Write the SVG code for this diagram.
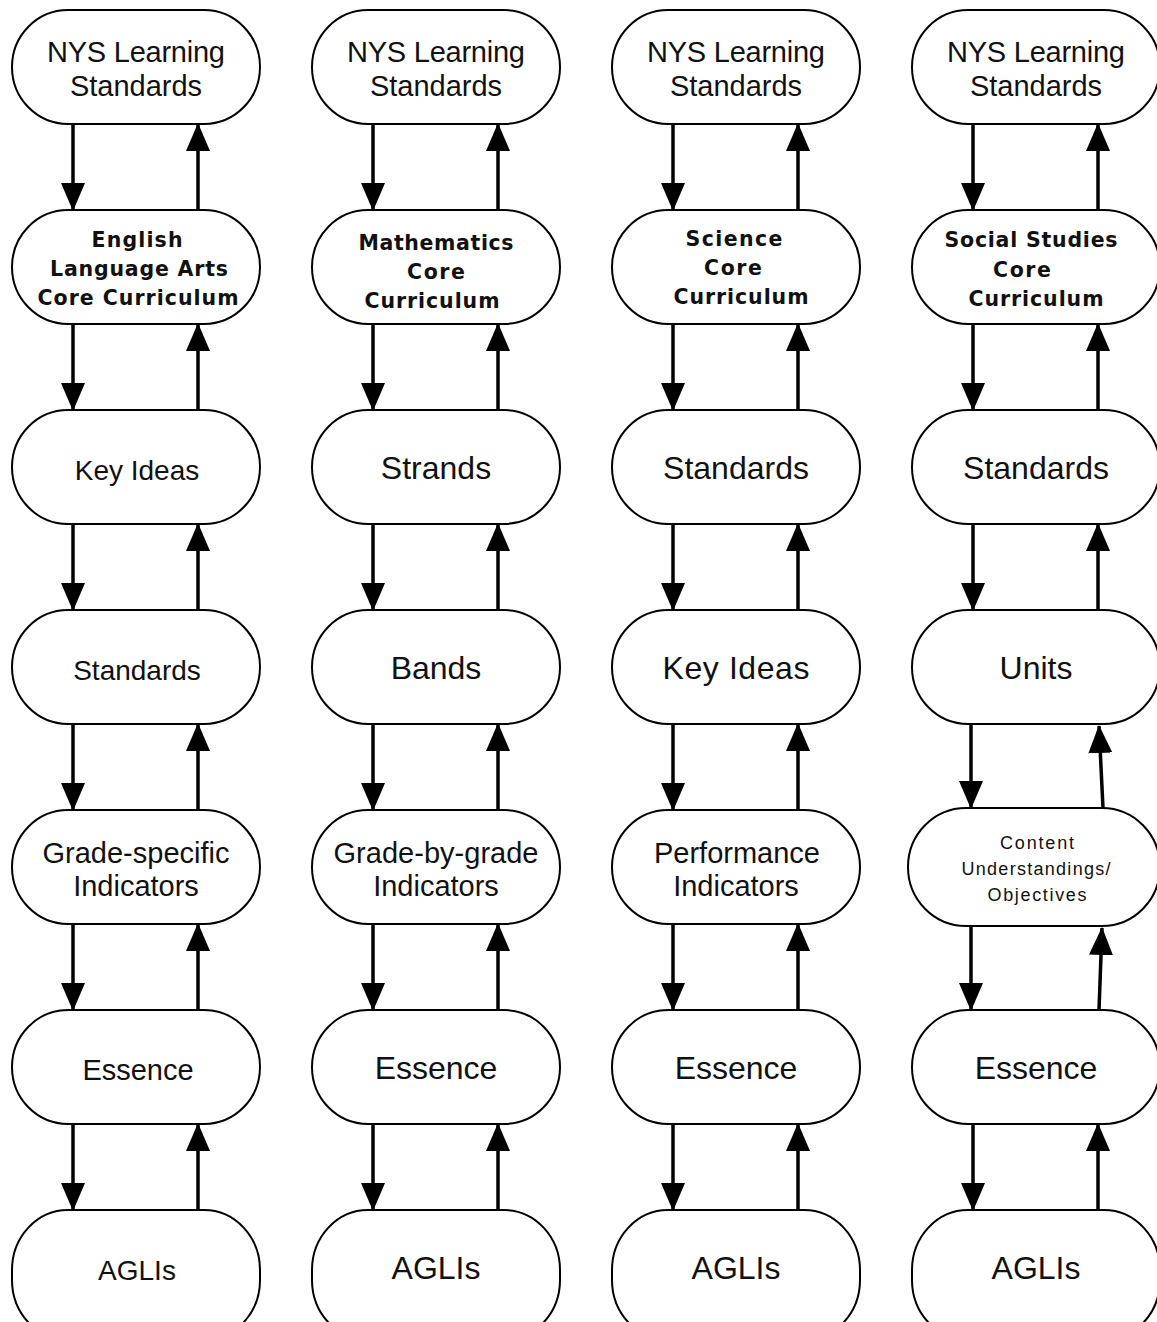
<svg xmlns="http://www.w3.org/2000/svg" width="1157" height="1322" viewBox="0 0 1157 1322">
<defs>
<marker id="ah" markerUnits="userSpaceOnUse" markerWidth="28" markerHeight="24" viewBox="0 0 28 24" refX="27" refY="12" orient="auto">
<path d="M0,0 L28,12 L0,24 z" fill="#000"/>
</marker>
</defs>
<style>
.n{fill:#fff;stroke:#000;stroke-width:2}
.t{font-family:"Liberation Sans",Arial,sans-serif;font-size:29px;fill:#111;text-anchor:middle}
.l{font-size:32px}
.b{font-family:"DejaVu Sans",Verdana,sans-serif;font-weight:bold;font-size:20.5px;fill:#111;text-anchor:middle}
.s{font-family:"Liberation Sans",Arial,sans-serif;font-size:18px;fill:#111;text-anchor:middle}
.c line{stroke:#000;stroke-width:3.5;marker-end:url(#ah)}
</style>
<rect width="1157" height="1322" fill="#fff"/>
<g class="c" id="connectors">
<line x1="73" y1="124" x2="73" y2="210"/><line x1="198" y1="210" x2="198" y2="124"/>
<line x1="73" y1="324" x2="73" y2="410"/><line x1="198" y1="410" x2="198" y2="324"/>
<line x1="73" y1="524" x2="73" y2="610"/><line x1="198" y1="610" x2="198" y2="524"/>
<line x1="73" y1="724" x2="73" y2="810"/><line x1="198" y1="810" x2="198" y2="724"/>
<line x1="73" y1="924" x2="73" y2="1010"/><line x1="198" y1="1010" x2="198" y2="924"/>
<line x1="73" y1="1124" x2="73" y2="1210"/><line x1="198" y1="1210" x2="198" y2="1124"/>
<line x1="373" y1="124" x2="373" y2="210"/><line x1="498" y1="210" x2="498" y2="124"/>
<line x1="373" y1="324" x2="373" y2="410"/><line x1="498" y1="410" x2="498" y2="324"/>
<line x1="373" y1="524" x2="373" y2="610"/><line x1="498" y1="610" x2="498" y2="524"/>
<line x1="373" y1="724" x2="373" y2="810"/><line x1="498" y1="810" x2="498" y2="724"/>
<line x1="373" y1="924" x2="373" y2="1010"/><line x1="498" y1="1010" x2="498" y2="924"/>
<line x1="373" y1="1124" x2="373" y2="1210"/><line x1="498" y1="1210" x2="498" y2="1124"/>
<line x1="673" y1="124" x2="673" y2="210"/><line x1="798" y1="210" x2="798" y2="124"/>
<line x1="673" y1="324" x2="673" y2="410"/><line x1="798" y1="410" x2="798" y2="324"/>
<line x1="673" y1="524" x2="673" y2="610"/><line x1="798" y1="610" x2="798" y2="524"/>
<line x1="673" y1="724" x2="673" y2="810"/><line x1="798" y1="810" x2="798" y2="724"/>
<line x1="673" y1="924" x2="673" y2="1010"/><line x1="798" y1="1010" x2="798" y2="924"/>
<line x1="673" y1="1124" x2="673" y2="1210"/><line x1="798" y1="1210" x2="798" y2="1124"/>
<line x1="973" y1="124" x2="973" y2="210"/><line x1="1098" y1="210" x2="1098" y2="124"/>
<line x1="973" y1="324" x2="973" y2="410"/><line x1="1098" y1="410" x2="1098" y2="324"/>
<line x1="973" y1="524" x2="973" y2="610"/><line x1="1098" y1="610" x2="1098" y2="524"/>
<line x1="971" y1="724" x2="971" y2="808"/><line x1="1103" y1="808" x2="1099" y2="726"/>
<line x1="971" y1="926" x2="971" y2="1010"/><line x1="1099" y1="1010" x2="1102" y2="928"/>
<line x1="973" y1="1124" x2="973" y2="1210"/><line x1="1098" y1="1210" x2="1098" y2="1124"/>
</g>
<!-- Column 1 -->
<g id="c1r1"><rect class="n" x="12" y="10" width="248" height="114" rx="56" ry="57"/><text class="t" x="136" y="62" textLength="178">NYS Learning</text><text class="t" x="136" y="96">Standards</text></g>
<g id="c1r2"><rect class="n" x="12" y="210" width="248" height="114" rx="56" ry="57"/><text class="b" x="137" y="247" textLength="91">English</text><text class="b" x="139" y="276" textLength="178">Language Arts</text><text class="b" x="138" y="305" textLength="201">Core Curriculum</text></g>
<g id="c1r3"><rect class="n" x="12" y="410" width="248" height="114" rx="56" ry="57"/><text class="t" x="137" y="480" style="font-size:28px">Key Ideas</text></g>
<g id="c1r4"><rect class="n" x="12" y="610" width="248" height="114" rx="56" ry="57"/><text class="t" x="137" y="680" style="font-size:28px">Standards</text></g>
<g id="c1r5"><rect class="n" x="12" y="810" width="248" height="114" rx="56" ry="57"/><text class="t" x="136" y="863">Grade-specific</text><text class="t" x="136" y="896">Indicators</text></g>
<g id="c1r6"><rect class="n" x="12" y="1010" width="248" height="114" rx="56" ry="57"/><text class="t" x="138" y="1080">Essence</text></g>
<g id="c1r7"><rect class="n" x="12" y="1210" width="248" height="130" rx="56" ry="60"/><text class="t" x="137" y="1280" style="font-size:28px">AGLIs</text></g>
<!-- Column 2 -->
<g id="c2r1"><rect class="n" x="312" y="10" width="248" height="114" rx="56" ry="57"/><text class="t" x="436" y="62" textLength="178">NYS Learning</text><text class="t" x="436" y="96">Standards</text></g>
<g id="c2r2"><rect class="n" x="312" y="210" width="248" height="114" rx="56" ry="57"/><text class="b" x="436" y="250" textLength="155">Mathematics</text><text class="b" x="436" y="279" textLength="58">Core</text><text class="b" x="432" y="308" textLength="135">Curriculum</text></g>
<g id="c2r3"><rect class="n" x="312" y="410" width="248" height="114" rx="56" ry="57"/><text class="t l" x="436" y="479">Strands</text></g>
<g id="c2r4"><rect class="n" x="312" y="610" width="248" height="114" rx="56" ry="57"/><text class="t l" x="436" y="679">Bands</text></g>
<g id="c2r5"><rect class="n" x="312" y="810" width="248" height="114" rx="56" ry="57"/><text class="t" x="436" y="863" textLength="205">Grade-by-grade</text><text class="t" x="436" y="896">Indicators</text></g>
<g id="c2r6"><rect class="n" x="312" y="1010" width="248" height="114" rx="56" ry="57"/><text class="t l" x="436" y="1079">Essence</text></g>
<g id="c2r7"><rect class="n" x="312" y="1210" width="248" height="130" rx="56" ry="60"/><text class="t l" x="436" y="1279">AGLIs</text></g>
<!-- Column 3 -->
<g id="c3r1"><rect class="n" x="612" y="10" width="248" height="114" rx="56" ry="57"/><text class="t" x="736" y="62" textLength="178">NYS Learning</text><text class="t" x="736" y="96">Standards</text></g>
<g id="c3r2"><rect class="n" x="612" y="210" width="248" height="114" rx="56" ry="57"/><text class="b" x="734" y="246" textLength="97">Science</text><text class="b" x="733" y="275" textLength="58">Core</text><text class="b" x="741" y="304" textLength="135">Curriculum</text></g>
<g id="c3r3"><rect class="n" x="612" y="410" width="248" height="114" rx="56" ry="57"/><text class="t l" x="736" y="479">Standards</text></g>
<g id="c3r4"><rect class="n" x="612" y="610" width="248" height="114" rx="56" ry="57"/><text class="t l" x="736" y="679" textLength="147">Key Ideas</text></g>
<g id="c3r5"><rect class="n" x="612" y="810" width="248" height="114" rx="56" ry="57"/><text class="t" x="737" y="863">Performance</text><text class="t" x="736" y="896">Indicators</text></g>
<g id="c3r6"><rect class="n" x="612" y="1010" width="248" height="114" rx="56" ry="57"/><text class="t l" x="736" y="1079">Essence</text></g>
<g id="c3r7"><rect class="n" x="612" y="1210" width="248" height="130" rx="56" ry="60"/><text class="t l" x="736" y="1279">AGLIs</text></g>
<!-- Column 4 -->
<g id="c4r1"><rect class="n" x="912" y="10" width="248" height="114" rx="56" ry="57"/><text class="t" x="1036" y="62" textLength="178">NYS Learning</text><text class="t" x="1036" y="96">Standards</text></g>
<g id="c4r2"><rect class="n" x="912" y="210" width="248" height="114" rx="56" ry="57"/><text class="b" x="1031" y="247" textLength="173">Social Studies</text><text class="b" x="1022" y="277" textLength="58">Core</text><text class="b" x="1036" y="306" textLength="135">Curriculum</text></g>
<g id="c4r3"><rect class="n" x="912" y="410" width="248" height="114" rx="56" ry="57"/><text class="t l" x="1036" y="479">Standards</text></g>
<g id="c4r4"><rect class="n" x="912" y="610" width="248" height="114" rx="56" ry="57"/><text class="t l" x="1036" y="679">Units</text></g>
<g id="c4r5"><rect class="n" x="908" y="808" width="252" height="118" rx="58" ry="59"/><text class="s" x="1037" y="849" textLength="74">Content</text><text class="s" x="1036" y="875" textLength="149">Understandings/</text><text class="s" x="1037" y="901" textLength="99">Objectives</text></g>
<g id="c4r6"><rect class="n" x="912" y="1010" width="248" height="114" rx="56" ry="57"/><text class="t l" x="1036" y="1079">Essence</text></g>
<g id="c4r7"><rect class="n" x="912" y="1210" width="248" height="130" rx="56" ry="60"/><text class="t l" x="1036" y="1279">AGLIs</text></g>
</svg>
